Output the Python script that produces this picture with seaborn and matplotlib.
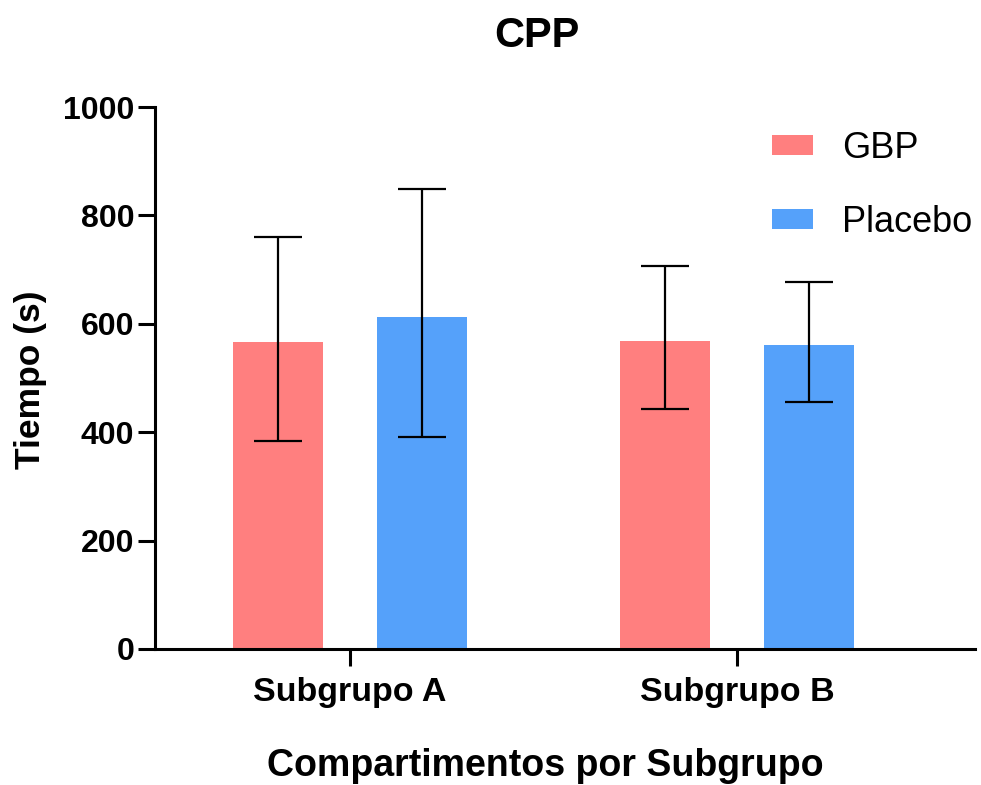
import matplotlib
matplotlib.use("Agg")
import matplotlib.pyplot as plt
import seaborn as sns
import pandas as pd
import numpy as np

categories = ["Subgrupo A", "Subgrupo B"]
groups = ["GBP", "Placebo"]
gbp_mean = [566, 568]
gbp_err_low = [182, 126]
gbp_err_high = [195, 139]
placebo_mean = [613, 561]
placebo_err_low = [222, 105]
placebo_err_high = [235, 117]
y_ticks = [0, 200, 400, 600, 800, 1000]
colors = ["#FF7F7F", "#55A1FA"]

df = pd.DataFrame({
    "cat": categories * 2,
    "grp": [groups[0]] * 2 + [groups[1]] * 2,
    "val": gbp_mean + placebo_mean,
})
low = gbp_err_low + placebo_err_low
high = gbp_err_high + placebo_err_high

sns.set_style("white")
plt.rcParams["font.family"] = ["Liberation Sans", "DejaVu Sans"]
plt.rcParams["text.color"] = "black"
plt.rcParams["xtick.color"] = "black"
plt.rcParams["ytick.color"] = "black"

fig = plt.figure(figsize=(9.81, 7.85), dpi=100)
ax = fig.add_axes([155/981, 1-649/785, (975-155)/981, (649-107)/785])

sns.barplot(data=df, x="cat", y="val", hue="grp", palette=colors,
            width=0.744, gap=0.38, errorbar=None, ax=ax, saturation=1,
            edgecolor="none", linewidth=0)

# error bars at bar centres (bars drawn by seaborn)
bar_patches = [p for p in ax.patches if p.get_height() > 0]
xs = [p.get_x() + p.get_width()/2 for p in bar_patches]
hs = [p.get_height() for p in bar_patches]
vals = df["val"].tolist()
errs_low, errs_high, used = [], [], set()
for h in hs:
    for i, v in enumerate(vals):
        if i not in used and abs(v - h) < 1e-6:
            used.add(i)
            errs_low.append(low[i])
            errs_high.append(high[i])
            break
ax.errorbar(xs, hs, yerr=[errs_low, errs_high], fmt="none", ecolor="black",
            elinewidth=1.6, capsize=17.5, capthick=1.6)

ax.set_ylim(0, 1000)
ax.set_xlim(-0.504, 1.615)
ax.set_yticks(y_ticks)
ax.set_yticklabels([str(t) for t in y_ticks], fontsize=23, fontweight="bold")
ax.set_xticks([0, 1])
ax.set_xticklabels(categories, fontsize=24.5, fontweight="bold")
ax.tick_params(axis="both", which="major", length=12, width=2.2, color="black",
               direction="out", left=True, bottom=True, pad=3, labelcolor="black")
ax.tick_params(axis="x", pad=8)
for s in ["top", "right"]:
    ax.spines[s].set_visible(False)
for s in ["left", "bottom"]:
    ax.spines[s].set_linewidth(2.2)
    ax.spines[s].set_color("black")
ax.set_xlabel("")
ax.set_ylabel("")

fig.text(537/981, 1-36/785, "CPP", ha="center", va="center", fontsize=30, fontweight="bold")
fig.text(545/981, 1-766/785, "Compartimentos por Subgrupo", ha="center", va="center",
         fontsize=27, fontweight="bold")
fig.text(31/981, 1-380/785, "Tiempo (s)", ha="center", va="center", rotation=90,
         fontsize=25.5, fontweight="bold")

leg = ax.legend(loc="upper left", bbox_to_anchor=(772/981, 1-131/785),
                bbox_transform=fig.transFigure, frameon=False, fontsize=26,
                handlelength=1.13, handleheight=0.48, labelspacing=1.08,
                handletextpad=0.82, borderaxespad=0, borderpad=0)
for t in leg.get_texts():
    t.set_color("black")

fig.savefig("out.png", dpi=100)
